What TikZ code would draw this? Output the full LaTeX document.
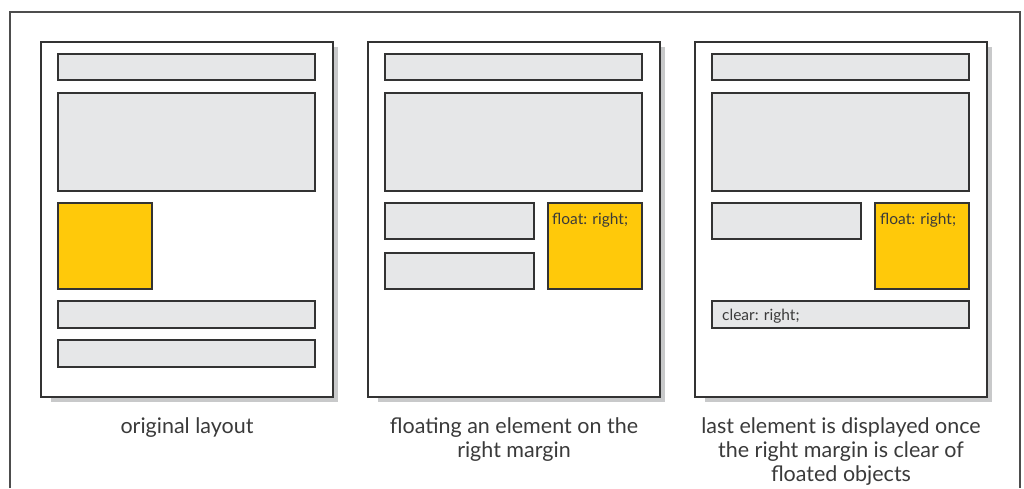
\documentclass[tikz,border=0pt]{standalone}
\usepackage{fontspec}
\setmainfont{Lato}
\definecolor{boxgray}{HTML}{E6E7E8}
\definecolor{floatyellow}{HTML}{FFC90A}
\definecolor{edge}{HTML}{333333}
\definecolor{shade}{HTML}{C8C9CA}
\definecolor{frame}{HTML}{4D4D4D}
\definecolor{txt}{HTML}{3A3A3A}
\tikzset{
  x=1pt, y=-1pt,
  pagebox/.style={draw=edge, line width=1.4pt, fill=white},
  pageshadow/.style={fill=shade, draw=none},
  blockbox/.style={draw=edge, line width=1.1pt, fill=boxgray},
  floatbox/.style={draw=edge, line width=1.1pt, fill=floatyellow},
  label/.style={font=\fontsize{15.5}{18}\selectfont, text=txt, inner sep=0pt, anchor=base west},
  caption/.style={font=\fontsize{21.5}{24}\selectfont, text=txt, align=center, anchor=north, inner sep=0pt}
}
\newcommand{\paperpage}[1]{%
  % shadow and sheet of one page, left edge at #1
  \fill[pageshadow] (#1+10,47) rectangle (#1+297,402);
  \draw[pagebox] (#1,42) rectangle (#1+292,397);
}
\begin{document}
\begin{tikzpicture}
\useasboundingbox (0,0) rectangle (1024,488);
% outer frame, open at the bottom
\draw[frame, line width=1.2pt] (10,488) -- (10,12) -- (1020,12) -- (1020,488);

% ---- original layout ----
\paperpage{41}
\draw[blockbox] (58,54) rectangle (315,80);
\draw[blockbox] (58,93) rectangle (315,191);
\draw[floatbox] (58,203) rectangle (152,289);
\draw[blockbox] (58,301) rectangle (315,328);
\draw[blockbox] (58,340) rectangle (315,367);
\node[caption] (c1) at (187,417) {original layout};

% ---- floating an element ----
\paperpage{368}
\draw[blockbox] (385,54) rectangle (642,80);
\draw[blockbox] (385,93) rectangle (642,191);
\draw[blockbox] (385,203) rectangle (534,239);
\draw[blockbox] (385,253) rectangle (534,289);
\draw[floatbox] (548,203) rectangle (642,289);
\node[label] (f2) at (552,224) {float: right;};
\node[caption] (c2) at (514,417) {floating an element on the\\right margin};

% ---- clearing the float ----
\paperpage{695}
\draw[blockbox] (712,54) rectangle (969,80);
\draw[blockbox] (712,93) rectangle (969,191);
\draw[blockbox] (712,203) rectangle (861,239);
\draw[floatbox] (875,203) rectangle (969,289);
\node[label] (f3) at (880,224) {float: right;};
\draw[blockbox] (712,301) rectangle (969,328);
\node[label] (cl) at (722,320) {clear: right;};
\node[caption] (c3) at (841,417) {last element is displayed once\\the right margin is clear of\\floated objects};
\end{tikzpicture}
\end{document}
